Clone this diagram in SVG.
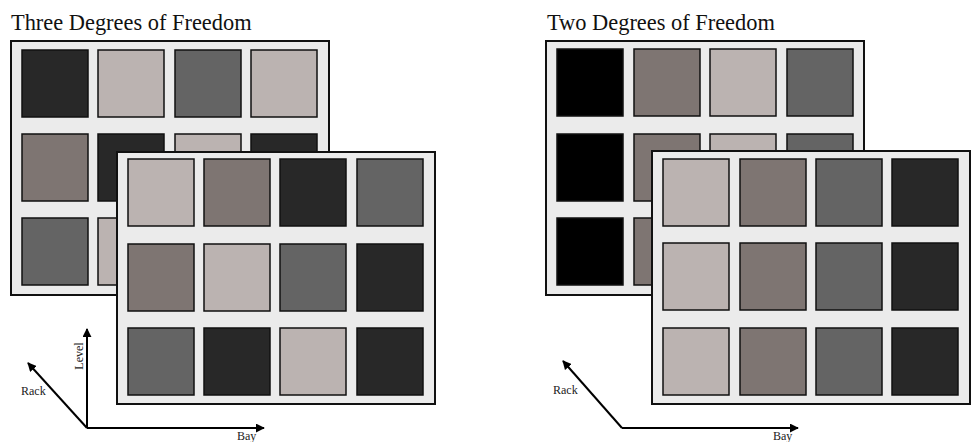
<svg xmlns="http://www.w3.org/2000/svg" width="971" height="442" viewBox="0 0 971 442">
<style>
.title{font-family:"Liberation Serif","Times New Roman",serif;font-size:22.4px;fill:#111}
.lbl{font-family:"Liberation Serif","Times New Roman",serif;font-size:12px;fill:#222}
.panel{fill:#ebebeb;stroke:#111;stroke-width:2}
.t{stroke:#111;stroke-width:1.5}
.k{fill:#000}.d{fill:#282828}.g{fill:#646464}.b{fill:#7e7572}.l{fill:#bbb3b1}
.ax{stroke:#000;stroke-width:2;fill:none}
</style>
<defs>
<marker id="ah" viewBox="0 0 10 10" refX="9" refY="5" markerWidth="4.5" markerHeight="4.5" orient="auto" markerUnits="strokeWidth">
<path d="M0,0 L10,5 L0,10 Z" fill="#000"/>
</marker>
</defs>
<rect width="971" height="442" fill="#fff"/>
<text class="title" x="11" y="30">Three Degrees of Freedom</text>
<text class="title" x="547" y="30">Two Degrees of Freedom</text>

<g id="left-back">
<rect class="panel" x="11" y="41" width="318" height="254"/>
<rect class="t d" x="22" y="50" width="66" height="67"/>
<rect class="t l" x="98" y="50" width="66" height="67"/>
<rect class="t g" x="175" y="50" width="66" height="67"/>
<rect class="t l" x="251" y="50" width="66" height="67"/>
<rect class="t b" x="22" y="134" width="66" height="67"/>
<rect class="t d" x="98" y="134" width="66" height="67"/>
<rect class="t l" x="175" y="134" width="66" height="67"/>
<rect class="t d" x="251" y="134" width="66" height="67"/>
<rect class="t g" x="22" y="218" width="66" height="67"/>
<rect class="t l" x="98" y="218" width="66" height="67"/>
<rect class="t g" x="175" y="218" width="66" height="67"/>
<rect class="t d" x="251" y="218" width="66" height="67"/>
</g>
<g id="left-front">
<rect class="panel" x="117" y="152" width="318" height="252"/>
<rect class="t l" x="128" y="159" width="66" height="67"/>
<rect class="t b" x="204" y="159" width="66" height="67"/>
<rect class="t d" x="280" y="159" width="66" height="67"/>
<rect class="t g" x="357" y="159" width="66" height="67"/>
<rect class="t b" x="128" y="244" width="66" height="67"/>
<rect class="t l" x="204" y="244" width="66" height="67"/>
<rect class="t g" x="280" y="244" width="66" height="67"/>
<rect class="t d" x="357" y="244" width="66" height="67"/>
<rect class="t g" x="128" y="328" width="66" height="67"/>
<rect class="t d" x="204" y="328" width="66" height="67"/>
<rect class="t l" x="280" y="328" width="66" height="67"/>
<rect class="t d" x="357" y="328" width="66" height="67"/>
</g>

<g id="right-back">
<rect class="panel" x="546" y="41" width="318" height="254"/>
<rect class="t k" x="557" y="49" width="66" height="67"/>
<rect class="t b" x="634" y="49" width="66" height="67"/>
<rect class="t l" x="710" y="49" width="66" height="67"/>
<rect class="t g" x="787" y="49" width="66" height="67"/>
<rect class="t k" x="557" y="134" width="66" height="67"/>
<rect class="t b" x="634" y="134" width="66" height="67"/>
<rect class="t l" x="710" y="134" width="66" height="67"/>
<rect class="t g" x="787" y="134" width="66" height="67"/>
<rect class="t k" x="557" y="218" width="66" height="67"/>
<rect class="t b" x="634" y="218" width="66" height="67"/>
<rect class="t l" x="710" y="218" width="66" height="67"/>
<rect class="t g" x="787" y="218" width="66" height="67"/>
</g>
<g id="right-front">
<rect class="panel" x="652" y="151" width="318" height="253"/>
<rect class="t l" x="663" y="159" width="66" height="67"/>
<rect class="t b" x="740" y="159" width="66" height="67"/>
<rect class="t g" x="816" y="159" width="66" height="67"/>
<rect class="t d" x="892" y="159" width="66" height="67"/>
<rect class="t l" x="663" y="243" width="66" height="67"/>
<rect class="t b" x="740" y="243" width="66" height="67"/>
<rect class="t g" x="816" y="243" width="66" height="67"/>
<rect class="t d" x="892" y="243" width="66" height="67"/>
<rect class="t l" x="663" y="328" width="66" height="67"/>
<rect class="t b" x="740" y="328" width="66" height="67"/>
<rect class="t g" x="816" y="328" width="66" height="67"/>
<rect class="t d" x="892" y="328" width="66" height="67"/>
</g>

<g id="connectors">
<line class="ax" x1="87" y1="428" x2="87" y2="329" marker-end="url(#ah)"/>
<line class="ax" x1="87" y1="428" x2="264" y2="428" marker-end="url(#ah)"/>
<line class="ax" x1="87" y1="428" x2="28" y2="363" marker-end="url(#ah)"/>
<line class="ax" x1="622" y1="428" x2="798" y2="428" marker-end="url(#ah)"/>
<line class="ax" x1="622" y1="428" x2="563" y2="361" marker-end="url(#ah)"/>
</g>

<g id="axis-labels">
<text class="lbl" transform="translate(83,356) rotate(-90)" text-anchor="middle">Level</text>
<text class="lbl" x="21" y="395">Rack</text>
<text class="lbl" x="237" y="440">Bay</text>
<text class="lbl" x="553" y="394">Rack</text>
<text class="lbl" x="773" y="440">Bay</text>
</g>
</svg>
